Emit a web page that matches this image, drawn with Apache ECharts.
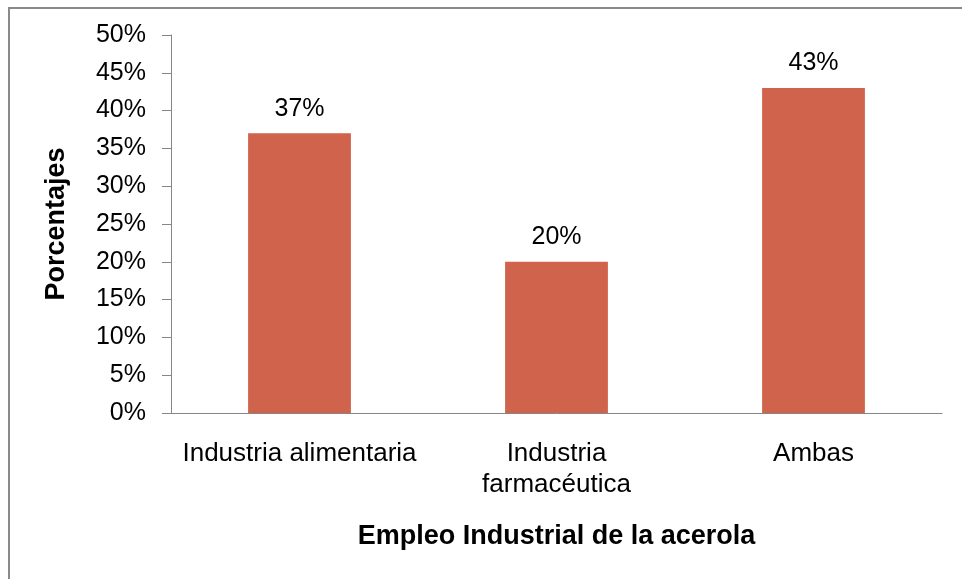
<!DOCTYPE html>
<html>
<head>
<meta charset="utf-8">
<script src="https://cdn.jsdelivr.net/npm/echarts@6/dist/echarts.min.js"></script>
<style>
  html, body { margin: 0; padding: 0; background: #fff; }
  #chart { width: 962px; height: 579px; }
</style>
</head>
<body>
<div id="chart"></div>
<script>
// Uses of acerola in industry (share of responses)
const categories = ['Industria alimentaria', 'Industria\nfarmacéutica', 'Ambas'];
const percentages = [37, 20, 43];
const yTicks = { min: 0, max: 50, step: 5 };

const FONT = 'Arial, "Liberation Sans", sans-serif';
const chart = echarts.init(document.getElementById('chart'), null, { renderer: 'canvas' });

chart.setOption({
  animation: false,
  backgroundColor: '#ffffff',
  graphic: [{
    type: 'rect',
    shape: { x: 9, y: 8, width: 1100, height: 1100 },
    style: { fill: 'none', stroke: '#8a8a8a', lineWidth: 2 },
    silent: true
  }],
  grid: { left: 171, right: 20, top: 35, bottom: 166, containLabel: false },
  xAxis: {
    type: 'category',
    data: categories,
    name: 'Empleo Industrial de la acerola',
    nameLocation: 'middle',
    nameGap: 110,
    nameTextStyle: { fontFamily: FONT, fontSize: 27, fontWeight: 'bold', color: '#000' },
    axisLine: { lineStyle: { color: '#868686', width: 1 } },
    axisTick: { show: false },
    axisLabel: {
      fontFamily: FONT, fontSize: 26, color: '#000',
      lineHeight: 31, margin: 25, interval: 0
    },
    splitLine: { show: false }
  },
  yAxis: {
    type: 'value',
    min: yTicks.min,
    max: yTicks.max,
    interval: yTicks.step,
    name: 'Porcentajes',
    nameLocation: 'middle',
    nameGap: 101,
    nameRotate: 90,
    nameTextStyle: { fontFamily: FONT, fontSize: 27, fontWeight: 'bold', color: '#000' },
    axisLine: { show: true, lineStyle: { color: '#868686', width: 1 } },
    axisTick: { show: true, length: 9, lineStyle: { color: '#868686' } },
    axisLabel: { fontFamily: FONT, fontSize: 25, color: '#000', margin: 25, formatter: '{value}%' },
    splitLine: { show: false }
  },
  series: [{
    type: 'bar',
    data: percentages,
    barWidth: '40%',
    itemStyle: { color: '#D0634B' },
    label: {
      show: true,
      position: 'top',
      distance: 12,
      fontFamily: FONT,
      fontSize: 25,
      color: '#000',
      formatter: '{c}%'
    }
  }]
});
</script>
</body>
</html>
